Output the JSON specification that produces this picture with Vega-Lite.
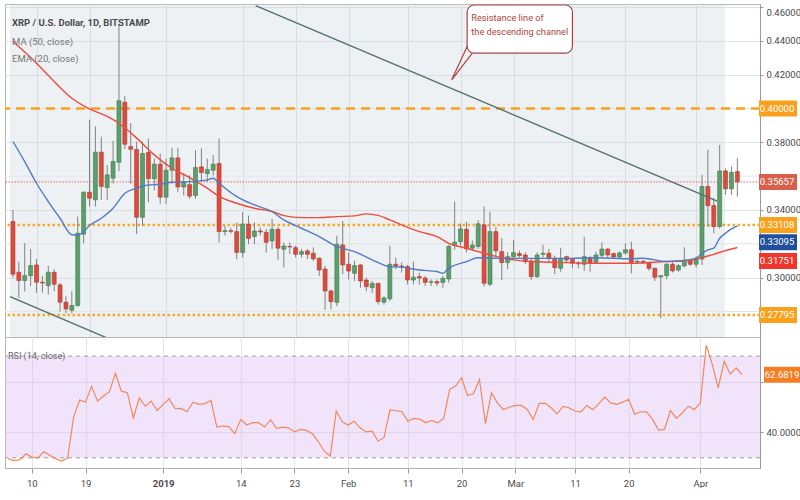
{
  "$schema": "https://vega.github.io/schema/vega-lite/v6.json",
  "padding": {"left": 3, "top": 3, "right": 0, "bottom": 0},
  "background": "white",
  "spacing": 0,
  "bounds": "flush",
  "datasets": {
    "candles": [
      {"d": "2018-12-06", "o": 0.3332, "h": 0.3401, "l": 0.3000, "c": 0.3020, "r": 29.7},
      {"d": "2018-12-07", "o": 0.3032, "h": 0.3095, "l": 0.2878, "c": 0.2983, "r": 28.9},
      {"d": "2018-12-08", "o": 0.2983, "h": 0.3204, "l": 0.2918, "c": 0.3012, "r": 29.3},
      {"d": "2018-12-09", "o": 0.3012, "h": 0.3170, "l": 0.2950, "c": 0.3071, "r": 31.6},
      {"d": "2018-12-10", "o": 0.3075, "h": 0.3110, "l": 0.2910, "c": 0.2973, "r": 30.3},
      {"d": "2018-12-11", "o": 0.2973, "h": 0.3010, "l": 0.2910, "c": 0.2968, "r": 30.0},
      {"d": "2018-12-12", "o": 0.2953, "h": 0.3070, "l": 0.2900, "c": 0.3032, "r": 32.4},
      {"d": "2018-12-13", "o": 0.3032, "h": 0.3050, "l": 0.2920, "c": 0.2961, "r": 31.0},
      {"d": "2018-12-14", "o": 0.2957, "h": 0.2970, "l": 0.2799, "c": 0.2855, "r": 29.7},
      {"d": "2018-12-15", "o": 0.2855, "h": 0.2890, "l": 0.2790, "c": 0.2815, "r": 28.7},
      {"d": "2018-12-16", "o": 0.2807, "h": 0.2920, "l": 0.2790, "c": 0.2835, "r": 30.0},
      {"d": "2018-12-17", "o": 0.2835, "h": 0.3361, "l": 0.2829, "c": 0.3263, "r": 46.0},
      {"d": "2018-12-18", "o": 0.3257, "h": 0.3510, "l": 0.3204, "c": 0.3505, "r": 52.7},
      {"d": "2018-12-19", "o": 0.3505, "h": 0.3933, "l": 0.3420, "c": 0.3470, "r": 51.9},
      {"d": "2018-12-20", "o": 0.3460, "h": 0.3894, "l": 0.3420, "c": 0.3742, "r": 58.1},
      {"d": "2018-12-21", "o": 0.3742, "h": 0.3833, "l": 0.3460, "c": 0.3539, "r": 52.3},
      {"d": "2018-12-22", "o": 0.3533, "h": 0.3665, "l": 0.3460, "c": 0.3608, "r": 54.3},
      {"d": "2018-12-23", "o": 0.3588, "h": 0.3809, "l": 0.3556, "c": 0.3687, "r": 56.0},
      {"d": "2018-12-24", "o": 0.3682, "h": 0.4500, "l": 0.3630, "c": 0.4046, "r": 63.2},
      {"d": "2018-12-25", "o": 0.4037, "h": 0.4075, "l": 0.3760, "c": 0.3789, "r": 56.2},
      {"d": "2018-12-26", "o": 0.3775, "h": 0.3913, "l": 0.3556, "c": 0.3759, "r": 55.6},
      {"d": "2018-12-27", "o": 0.3758, "h": 0.3804, "l": 0.3258, "c": 0.3357, "r": 45.7},
      {"d": "2018-12-28", "o": 0.3357, "h": 0.3804, "l": 0.3308, "c": 0.3734, "r": 53.6},
      {"d": "2018-12-29", "o": 0.3740, "h": 0.3823, "l": 0.3446, "c": 0.3585, "r": 50.3},
      {"d": "2018-12-30", "o": 0.3585, "h": 0.3704, "l": 0.3516, "c": 0.3671, "r": 52.3},
      {"d": "2018-12-31", "o": 0.3671, "h": 0.3734, "l": 0.3437, "c": 0.3476, "r": 48.6},
      {"d": "2019-01-01", "o": 0.3476, "h": 0.3704, "l": 0.3437, "c": 0.3635, "r": 51.0},
      {"d": "2019-01-02", "o": 0.3635, "h": 0.3768, "l": 0.3556, "c": 0.3708, "r": 53.2},
      {"d": "2019-01-03", "o": 0.3708, "h": 0.3768, "l": 0.3506, "c": 0.3536, "r": 49.3},
      {"d": "2019-01-04", "o": 0.3536, "h": 0.3615, "l": 0.3486, "c": 0.3565, "r": 49.4},
      {"d": "2019-01-05", "o": 0.3550, "h": 0.3605, "l": 0.3466, "c": 0.3482, "r": 48.1},
      {"d": "2019-01-06", "o": 0.3486, "h": 0.3754, "l": 0.3466, "c": 0.3651, "r": 51.9},
      {"d": "2019-01-07", "o": 0.3655, "h": 0.3764, "l": 0.3565, "c": 0.3621, "r": 51.0},
      {"d": "2019-01-08", "o": 0.3615, "h": 0.3704, "l": 0.3565, "c": 0.3639, "r": 51.3},
      {"d": "2019-01-09", "o": 0.3635, "h": 0.3724, "l": 0.3605, "c": 0.3671, "r": 52.6},
      {"d": "2019-01-10", "o": 0.3675, "h": 0.3823, "l": 0.3208, "c": 0.3272, "r": 42.1},
      {"d": "2019-01-11", "o": 0.3272, "h": 0.3308, "l": 0.3248, "c": 0.3278, "r": 42.5},
      {"d": "2019-01-12", "o": 0.3278, "h": 0.3295, "l": 0.3260, "c": 0.3274, "r": 42.3},
      {"d": "2019-01-13", "o": 0.3272, "h": 0.3327, "l": 0.3109, "c": 0.3149, "r": 39.5},
      {"d": "2019-01-14", "o": 0.3149, "h": 0.3387, "l": 0.3119, "c": 0.3317, "r": 45.1},
      {"d": "2019-01-15", "o": 0.3317, "h": 0.3367, "l": 0.3198, "c": 0.3232, "r": 42.9},
      {"d": "2019-01-16", "o": 0.3243, "h": 0.3327, "l": 0.3198, "c": 0.3276, "r": 43.8},
      {"d": "2019-01-17", "o": 0.3276, "h": 0.3297, "l": 0.3248, "c": 0.3270, "r": 43.8},
      {"d": "2019-01-18", "o": 0.3268, "h": 0.3288, "l": 0.3149, "c": 0.3209, "r": 42.1},
      {"d": "2019-01-19", "o": 0.3217, "h": 0.3347, "l": 0.3169, "c": 0.3286, "r": 45.0},
      {"d": "2019-01-20", "o": 0.3286, "h": 0.3298, "l": 0.3105, "c": 0.3174, "r": 41.6},
      {"d": "2019-01-21", "o": 0.3168, "h": 0.3208, "l": 0.3060, "c": 0.3187, "r": 42.1},
      {"d": "2019-01-22", "o": 0.3185, "h": 0.3208, "l": 0.3139, "c": 0.3181, "r": 41.8},
      {"d": "2019-01-23", "o": 0.3177, "h": 0.3189, "l": 0.3119, "c": 0.3138, "r": 40.2},
      {"d": "2019-01-24", "o": 0.3138, "h": 0.3169, "l": 0.3119, "c": 0.3154, "r": 41.2},
      {"d": "2019-01-25", "o": 0.3158, "h": 0.3169, "l": 0.3109, "c": 0.3138, "r": 40.8},
      {"d": "2019-01-26", "o": 0.3144, "h": 0.3179, "l": 0.3099, "c": 0.3111, "r": 39.5},
      {"d": "2019-01-27", "o": 0.3115, "h": 0.3119, "l": 0.3010, "c": 0.3045, "r": 36.3},
      {"d": "2019-01-28", "o": 0.3051, "h": 0.3070, "l": 0.2809, "c": 0.2921, "r": 32.6},
      {"d": "2019-01-29", "o": 0.2921, "h": 0.2931, "l": 0.2812, "c": 0.2858, "r": 30.7},
      {"d": "2019-01-30", "o": 0.2854, "h": 0.3248, "l": 0.2831, "c": 0.3197, "r": 48.4},
      {"d": "2019-01-31", "o": 0.3193, "h": 0.3335, "l": 0.3020, "c": 0.3075, "r": 44.2},
      {"d": "2019-02-01", "o": 0.3079, "h": 0.3149, "l": 0.2990, "c": 0.3039, "r": 42.9},
      {"d": "2019-02-02", "o": 0.3026, "h": 0.3100, "l": 0.2980, "c": 0.3071, "r": 44.4},
      {"d": "2019-02-03", "o": 0.3075, "h": 0.3080, "l": 0.2940, "c": 0.2980, "r": 41.8},
      {"d": "2019-02-04", "o": 0.2986, "h": 0.3000, "l": 0.2920, "c": 0.2947, "r": 40.2},
      {"d": "2019-02-05", "o": 0.2941, "h": 0.2980, "l": 0.2910, "c": 0.2966, "r": 40.5},
      {"d": "2019-02-06", "o": 0.2966, "h": 0.2970, "l": 0.2840, "c": 0.2858, "r": 36.6},
      {"d": "2019-02-07", "o": 0.2855, "h": 0.2890, "l": 0.2840, "c": 0.2880, "r": 37.9},
      {"d": "2019-02-08", "o": 0.2875, "h": 0.3189, "l": 0.2861, "c": 0.3079, "r": 48.8},
      {"d": "2019-02-09", "o": 0.3079, "h": 0.3119, "l": 0.3050, "c": 0.3069, "r": 48.6},
      {"d": "2019-02-10", "o": 0.3069, "h": 0.3090, "l": 0.3030, "c": 0.3065, "r": 48.1},
      {"d": "2019-02-11", "o": 0.3065, "h": 0.3075, "l": 0.2960, "c": 0.2986, "r": 44.4},
      {"d": "2019-02-12", "o": 0.2986, "h": 0.3095, "l": 0.2960, "c": 0.3002, "r": 45.5},
      {"d": "2019-02-13", "o": 0.3006, "h": 0.3030, "l": 0.2960, "c": 0.2998, "r": 45.2},
      {"d": "2019-02-14", "o": 0.2998, "h": 0.3010, "l": 0.2950, "c": 0.2972, "r": 43.8},
      {"d": "2019-02-15", "o": 0.2972, "h": 0.2990, "l": 0.2950, "c": 0.2976, "r": 44.7},
      {"d": "2019-02-16", "o": 0.2976, "h": 0.2990, "l": 0.2950, "c": 0.2968, "r": 43.8},
      {"d": "2019-02-17", "o": 0.2972, "h": 0.3010, "l": 0.2940, "c": 0.2996, "r": 45.5},
      {"d": "2019-02-18", "o": 0.2992, "h": 0.3194, "l": 0.2970, "c": 0.3184, "r": 56.9},
      {"d": "2019-02-19", "o": 0.3190, "h": 0.3450, "l": 0.3165, "c": 0.3210, "r": 58.2},
      {"d": "2019-02-20", "o": 0.3213, "h": 0.3320, "l": 0.3190, "c": 0.3288, "r": 61.5},
      {"d": "2019-02-21", "o": 0.3286, "h": 0.3330, "l": 0.3150, "c": 0.3170, "r": 54.5},
      {"d": "2019-02-22", "o": 0.3174, "h": 0.3220, "l": 0.3160, "c": 0.3193, "r": 55.2},
      {"d": "2019-02-23", "o": 0.3184, "h": 0.3340, "l": 0.3170, "c": 0.3318, "r": 60.8},
      {"d": "2019-02-24", "o": 0.3312, "h": 0.3420, "l": 0.2947, "c": 0.2967, "r": 43.4},
      {"d": "2019-02-25", "o": 0.2961, "h": 0.3390, "l": 0.2950, "c": 0.3272, "r": 55.6},
      {"d": "2019-02-26", "o": 0.3272, "h": 0.3300, "l": 0.3125, "c": 0.3158, "r": 51.6},
      {"d": "2019-02-27", "o": 0.3154, "h": 0.3233, "l": 0.2986, "c": 0.3089, "r": 49.0},
      {"d": "2019-02-28", "o": 0.3089, "h": 0.3150, "l": 0.3050, "c": 0.3124, "r": 49.9},
      {"d": "2019-03-01", "o": 0.3124, "h": 0.3223, "l": 0.3110, "c": 0.3148, "r": 50.6},
      {"d": "2019-03-02", "o": 0.3142, "h": 0.3160, "l": 0.3120, "c": 0.3130, "r": 50.6},
      {"d": "2019-03-03", "o": 0.3134, "h": 0.3150, "l": 0.3080, "c": 0.3095, "r": 49.0},
      {"d": "2019-03-04", "o": 0.3099, "h": 0.3110, "l": 0.2986, "c": 0.3006, "r": 45.1},
      {"d": "2019-03-05", "o": 0.3006, "h": 0.3150, "l": 0.2998, "c": 0.3134, "r": 51.3},
      {"d": "2019-03-06", "o": 0.3138, "h": 0.3195, "l": 0.3120, "c": 0.3144, "r": 51.5},
      {"d": "2019-03-07", "o": 0.3144, "h": 0.3170, "l": 0.3090, "c": 0.3114, "r": 49.7},
      {"d": "2019-03-08", "o": 0.3114, "h": 0.3130, "l": 0.3020, "c": 0.3059, "r": 47.3},
      {"d": "2019-03-09", "o": 0.3055, "h": 0.3177, "l": 0.3035, "c": 0.3114, "r": 50.2},
      {"d": "2019-03-10", "o": 0.3124, "h": 0.3130, "l": 0.3090, "c": 0.3104, "r": 49.7},
      {"d": "2019-03-11", "o": 0.3108, "h": 0.3115, "l": 0.3055, "c": 0.3085, "r": 48.4},
      {"d": "2019-03-12", "o": 0.3085, "h": 0.3100, "l": 0.3055, "c": 0.3082, "r": 48.1},
      {"d": "2019-03-13", "o": 0.3079, "h": 0.3242, "l": 0.3040, "c": 0.3124, "r": 50.6},
      {"d": "2019-03-14", "o": 0.3118, "h": 0.3130, "l": 0.3035, "c": 0.3085, "r": 48.9},
      {"d": "2019-03-15", "o": 0.3091, "h": 0.3155, "l": 0.3080, "c": 0.3134, "r": 51.3},
      {"d": "2019-03-16", "o": 0.3132, "h": 0.3209, "l": 0.3120, "c": 0.3169, "r": 53.9},
      {"d": "2019-03-17", "o": 0.3169, "h": 0.3175, "l": 0.3120, "c": 0.3134, "r": 51.6},
      {"d": "2019-03-18", "o": 0.3142, "h": 0.3150, "l": 0.3110, "c": 0.3122, "r": 51.0},
      {"d": "2019-03-19", "o": 0.3122, "h": 0.3155, "l": 0.3110, "c": 0.3146, "r": 51.9},
      {"d": "2019-03-20", "o": 0.3146, "h": 0.3203, "l": 0.3135, "c": 0.3165, "r": 53.0},
      {"d": "2019-03-21", "o": 0.3165, "h": 0.3213, "l": 0.3025, "c": 0.3090, "r": 47.1},
      {"d": "2019-03-22", "o": 0.3093, "h": 0.3105, "l": 0.3080, "c": 0.3097, "r": 48.1},
      {"d": "2019-03-23", "o": 0.3097, "h": 0.3105, "l": 0.3080, "c": 0.3089, "r": 48.1},
      {"d": "2019-03-24", "o": 0.3090, "h": 0.3095, "l": 0.3040, "c": 0.3055, "r": 45.1},
      {"d": "2019-03-25", "o": 0.3055, "h": 0.3060, "l": 0.2980, "c": 0.3002, "r": 40.9},
      {"d": "2019-03-26", "o": 0.3004, "h": 0.3012, "l": 0.2760, "c": 0.3012, "r": 41.2},
      {"d": "2019-03-27", "o": 0.3012, "h": 0.3085, "l": 0.2990, "c": 0.3079, "r": 48.6},
      {"d": "2019-03-28", "o": 0.3079, "h": 0.3090, "l": 0.3030, "c": 0.3040, "r": 45.5},
      {"d": "2019-03-29", "o": 0.3045, "h": 0.3080, "l": 0.3035, "c": 0.3071, "r": 47.7},
      {"d": "2019-03-30", "o": 0.3069, "h": 0.3180, "l": 0.3060, "c": 0.3095, "r": 50.3},
      {"d": "2019-03-31", "o": 0.3099, "h": 0.3110, "l": 0.3070, "c": 0.3079, "r": 49.0},
      {"d": "2019-04-01", "o": 0.3079, "h": 0.3125, "l": 0.3060, "c": 0.3110, "r": 51.6},
      {"d": "2019-04-02", "o": 0.3110, "h": 0.3608, "l": 0.3075, "c": 0.3539, "r": 74.3},
      {"d": "2019-04-03", "o": 0.3539, "h": 0.3756, "l": 0.3300, "c": 0.3426, "r": 66.7},
      {"d": "2019-04-04", "o": 0.3426, "h": 0.3470, "l": 0.3263, "c": 0.3302, "r": 57.5},
      {"d": "2019-04-05", "o": 0.3302, "h": 0.3785, "l": 0.3290, "c": 0.3631, "r": 68.0},
      {"d": "2019-04-06", "o": 0.3631, "h": 0.3645, "l": 0.3489, "c": 0.3525, "r": 63.0},
      {"d": "2019-04-07", "o": 0.3525, "h": 0.3657, "l": 0.3489, "c": 0.3623, "r": 65.4},
      {"d": "2019-04-08", "o": 0.3627, "h": 0.3706, "l": 0.3480, "c": 0.3566, "r": 62.7}
    ],
    "ma50": [
      {"d": "2018-12-06", "v": 0.4396}, {"d": "2018-12-10", "v": 0.4268}, {"d": "2018-12-13", "v": 0.4160},
      {"d": "2018-12-16", "v": 0.4061}, {"d": "2018-12-19", "v": 0.3998}, {"d": "2018-12-22", "v": 0.3953},
      {"d": "2018-12-24", "v": 0.3913}, {"d": "2018-12-27", "v": 0.3825}, {"d": "2018-12-30", "v": 0.3726},
      {"d": "2019-01-02", "v": 0.3647}, {"d": "2019-01-05", "v": 0.3592}, {"d": "2019-01-08", "v": 0.3529},
      {"d": "2019-01-10", "v": 0.3480}, {"d": "2019-01-13", "v": 0.3440}, {"d": "2019-01-16", "v": 0.3410},
      {"d": "2019-01-19", "v": 0.3391}, {"d": "2019-01-21", "v": 0.3367}, {"d": "2019-01-24", "v": 0.3355},
      {"d": "2019-01-27", "v": 0.3355}, {"d": "2019-01-30", "v": 0.3361}, {"d": "2019-02-02", "v": 0.3365},
      {"d": "2019-02-04", "v": 0.3377}, {"d": "2019-02-06", "v": 0.3368}, {"d": "2019-02-08", "v": 0.3341},
      {"d": "2019-02-10", "v": 0.3312}, {"d": "2019-02-13", "v": 0.3272}, {"d": "2019-02-16", "v": 0.3243},
      {"d": "2019-02-18", "v": 0.3203}, {"d": "2019-02-21", "v": 0.3174}, {"d": "2019-02-24", "v": 0.3144},
      {"d": "2019-02-27", "v": 0.3118}, {"d": "2019-03-01", "v": 0.3105}, {"d": "2019-03-04", "v": 0.3095},
      {"d": "2019-03-10", "v": 0.3089}, {"d": "2019-03-15", "v": 0.3085}, {"d": "2019-03-21", "v": 0.3085},
      {"d": "2019-03-27", "v": 0.3095}, {"d": "2019-03-31", "v": 0.3101}, {"d": "2019-04-02", "v": 0.3119},
      {"d": "2019-04-04", "v": 0.3138}, {"d": "2019-04-06", "v": 0.3160}, {"d": "2019-04-08", "v": 0.3178}
    ],
    "ema20": [
      {"d": "2018-12-06", "v": 0.3805}, {"d": "2018-12-08", "v": 0.3686}, {"d": "2018-12-10", "v": 0.3558},
      {"d": "2018-12-12", "v": 0.3450}, {"d": "2018-12-14", "v": 0.3351}, {"d": "2018-12-16", "v": 0.3254},
      {"d": "2018-12-17", "v": 0.3252}, {"d": "2018-12-18", "v": 0.3272}, {"d": "2018-12-19", "v": 0.3308},
      {"d": "2018-12-21", "v": 0.3351}, {"d": "2018-12-23", "v": 0.3410}, {"d": "2018-12-25", "v": 0.3499},
      {"d": "2018-12-27", "v": 0.3529}, {"d": "2018-12-29", "v": 0.3548}, {"d": "2018-12-31", "v": 0.3552},
      {"d": "2019-01-02", "v": 0.3564}, {"d": "2019-01-05", "v": 0.3568}, {"d": "2019-01-08", "v": 0.3578},
      {"d": "2019-01-09", "v": 0.3588}, {"d": "2019-01-10", "v": 0.3558}, {"d": "2019-01-13", "v": 0.3479},
      {"d": "2019-01-16", "v": 0.3430}, {"d": "2019-01-19", "v": 0.3391}, {"d": "2019-01-21", "v": 0.3341},
      {"d": "2019-01-24", "v": 0.3292}, {"d": "2019-01-27", "v": 0.3243}, {"d": "2019-01-30", "v": 0.3183},
      {"d": "2019-02-02", "v": 0.3154}, {"d": "2019-02-05", "v": 0.3105}, {"d": "2019-02-08", "v": 0.3065},
      {"d": "2019-02-10", "v": 0.3062}, {"d": "2019-02-13", "v": 0.3045}, {"d": "2019-02-16", "v": 0.3036},
      {"d": "2019-02-17", "v": 0.3026}, {"d": "2019-02-18", "v": 0.3055}, {"d": "2019-02-21", "v": 0.3095},
      {"d": "2019-02-23", "v": 0.3118}, {"d": "2019-02-27", "v": 0.3114}, {"d": "2019-03-04", "v": 0.3114},
      {"d": "2019-03-10", "v": 0.3114}, {"d": "2019-03-15", "v": 0.3118}, {"d": "2019-03-21", "v": 0.3112},
      {"d": "2019-03-23", "v": 0.3115}, {"d": "2019-03-27", "v": 0.3095}, {"d": "2019-03-29", "v": 0.3099},
      {"d": "2019-04-01", "v": 0.3115}, {"d": "2019-04-02", "v": 0.3144}, {"d": "2019-04-03", "v": 0.3164},
      {"d": "2019-04-04", "v": 0.3174}, {"d": "2019-04-05", "v": 0.3233}, {"d": "2019-04-06", "v": 0.3263},
      {"d": "2019-04-07", "v": 0.3288}, {"d": "2019-04-08", "v": 0.3306}
    ],
    "channel": [
      {"line": "upper", "d": "2019-01-16T05:00:00Z", "p": 0.4609},
      {"line": "upper", "d": "2019-04-04T14:00:00Z", "p": 0.3452},
      {"line": "lower", "d": "2018-12-05T12:00:00Z", "p": 0.2888},
      {"line": "lower", "d": "2018-12-22T00:00:00Z", "p": 0.2643}
    ],
    "tail": [
      {"i": 1, "d": "2019-02-21T03:00:00Z", "p": 0.4367},
      {"i": 2, "d": "2019-02-18T12:00:00Z", "p": 0.4170},
      {"i": 3, "d": "2019-02-22T00:00:00Z", "p": 0.4327}
    ],
    "tags": [
      {"p": 0.4, "label": "0.40000", "kind": "level"},
      {"p": 0.35657, "label": "0.35657", "kind": "price"},
      {"p": 0.33108, "label": "0.33108", "kind": "level"},
      {"p": 0.27795, "label": "0.27795", "kind": "level"},
      {"p": 0.33095, "label": "0.33095", "kind": "ema"},
      {"p": 0.31751, "label": "0.31751", "kind": "ma"}
    ]
  },
  "vconcat": [
    {
      "width": 755,
      "height": 333,
      "layer": [
        {
          "data": {"values": [{}]},
          "mark": {"type": "rect", "color": "#c8d0d8", "opacity": 0.3},
          "encoding": {
            "x": {
              "datum": {"year": 2018, "month": 12, "date": 5, "hours": 12, "utc": true},
              "type": "temporal",
              "scale": {"type": "utc", "domain": [{"year": 2018, "month": 12, "date": 5, "hours": 12, "utc": true}, {"year": 2019, "month": 4, "date": 11, "utc": true}]},
              "axis": {
                "title": null, "labels": false, "ticks": false, "domain": false, "grid": true,
                "values": [
                  {"year": 2018, "month": 12, "date": 10, "utc": true}, {"year": 2018, "month": 12, "date": 19, "utc": true},
                  {"year": 2019, "month": 1, "date": 1, "utc": true}, {"year": 2019, "month": 1, "date": 14, "utc": true},
                  {"year": 2019, "month": 1, "date": 23, "utc": true}, {"year": 2019, "month": 2, "date": 1, "utc": true},
                  {"year": 2019, "month": 2, "date": 11, "utc": true}, {"year": 2019, "month": 2, "date": 20, "utc": true},
                  {"year": 2019, "month": 3, "date": 1, "utc": true}, {"year": 2019, "month": 3, "date": 11, "utc": true},
                  {"year": 2019, "month": 3, "date": 20, "utc": true}, {"year": 2019, "month": 4, "date": 1, "utc": true}
                ]
              }
            },
            "x2": {"datum": {"year": 2019, "month": 4, "date": 5, "hours": 22, "utc": true}},
            "y": {
              "datum": 0.4618,
              "type": "quantitative",
              "scale": {"domain": [0.2649, 0.4618], "nice": false, "zero": false},
              "axis": {
                "title": null, "orient": "right", "grid": true, "labelOverlap": false, "labelFlush": 5,
                "values": [0.30, 0.34, 0.38, 0.42, 0.44, 0.46],
                "format": ".5f",
                "tickSize": 3, "labelPadding": 3
              }
            },
            "y2": {"datum": 0.2649}
          }
        },
        {
          "data": {"values": [{"g": 0.28}, {"g": 0.32}, {"g": 0.36}, {"g": 0.40}]},
          "mark": {"type": "rule", "color": "#e1e4e8", "strokeWidth": 1},
          "encoding": {"y": {"field": "g", "type": "quantitative"}}
        },
        {
          "data": {"values": [{}]},
          "mark": {"type": "rule", "color": "#f9a11b", "strokeWidth": 2.5, "strokeDash": [9, 6]},
          "encoding": {"y": {"datum": 0.4, "type": "quantitative"}}
        },
        {
          "data": {"values": [{"p": 0.33108}, {"p": 0.27795}]},
          "mark": {"type": "rule", "color": "#f9a825", "strokeWidth": 2.5, "strokeDash": [2.5, 2.5]},
          "encoding": {"y": {"field": "p", "type": "quantitative"}}
        },
        {
          "data": {"values": [{}]},
          "mark": {"type": "rule", "color": "#e06666", "strokeWidth": 1, "strokeDash": [1.5, 1.5]},
          "encoding": {"y": {"datum": 0.35657, "type": "quantitative"}}
        },
        {
          "data": {"name": "candles"},
          "mark": {"type": "rule", "color": "#808080", "strokeWidth": 1},
          "encoding": {
            "x": {"field": "d", "type": "temporal"},
            "y": {"field": "l", "type": "quantitative"},
            "y2": {"field": "h"}
          }
        },
        {
          "data": {"name": "candles"},
          "mark": {"type": "bar", "size": 4, "strokeWidth": 0.6},
          "encoding": {
            "x": {"field": "d", "type": "temporal"},
            "y": {"field": "o", "type": "quantitative"},
            "y2": {"field": "c"},
            "color": {"condition": {"test": "datum.c >= datum.o", "value": "#5c9e6c"}, "value": "#dc4b3e"},
            "stroke": {"condition": {"test": "datum.c >= datum.o", "value": "#3d7a4e"}, "value": "#a83a2e"}
          }
        },
        {
          "data": {"name": "ma50"},
          "mark": {"type": "line", "color": "#ef4b3f", "strokeWidth": 1.4, "interpolate": "monotone"},
          "encoding": {"x": {"field": "d", "type": "temporal"}, "y": {"field": "v", "type": "quantitative"}}
        },
        {
          "data": {"name": "ema20"},
          "mark": {"type": "line", "color": "#4f7cc4", "strokeWidth": 1.4, "interpolate": "monotone"},
          "encoding": {"x": {"field": "d", "type": "temporal"}, "y": {"field": "v", "type": "quantitative"}}
        },
        {
          "data": {"name": "channel"},
          "mark": {"type": "line", "color": "#55706f", "strokeWidth": 1.4, "clip": true},
          "encoding": {
            "x": {"field": "d", "type": "temporal"},
            "y": {"field": "p", "type": "quantitative"},
            "detail": {"field": "line"}
          }
        },
        {
          "data": {"values": [{}]},
          "mark": {"type": "rect", "fill": "white", "stroke": "#a94442", "strokeWidth": 1.2, "cornerRadius": 7},
          "encoding": {
            "x": {"datum": {"year": 2019, "month": 2, "date": 21, "hours": 3, "utc": true}, "type": "temporal"},
            "x2": {"datum": {"year": 2019, "month": 3, "date": 11, "utc": true}},
            "y": {"datum": 0.4612, "type": "quantitative"},
            "y2": {"datum": 0.4327}
          }
        },
        {
          "data": {"name": "tail"},
          "mark": {"type": "line", "color": "#a94442", "strokeWidth": 1.2},
          "encoding": {
            "x": {"field": "d", "type": "temporal"},
            "y": {"field": "p", "type": "quantitative"},
            "order": {"field": "i"}
          }
        },
        {
          "data": {"values": [{}]},
          "mark": {"type": "text", "text": ["Resistance line of", "the descending channel"], "align": "left", "baseline": "top", "fontSize": 9.2, "lineHeight": 14, "color": "#b0463d"},
          "encoding": {
            "x": {"datum": {"year": 2019, "month": 2, "date": 21, "hours": 20, "utc": true}, "type": "temporal"},
            "y": {"datum": 0.4560, "type": "quantitative"}
          }
        },
        {
          "data": {"values": [{}]},
          "mark": {"type": "text", "text": "XRP / U.S. Dollar, 1D, BITSTAMP", "align": "left", "baseline": "middle", "fontSize": 9.5, "fontWeight": "bold", "color": "#4a4a4a", "xOffset": 2},
          "encoding": {
            "x": {"datum": {"year": 2018, "month": 12, "date": 5, "hours": 12, "utc": true}, "type": "temporal"},
            "y": {"datum": 0.4503, "type": "quantitative"}
          }
        },
        {
          "data": {"values": [{}]},
          "mark": {"type": "text", "text": "MA (50, close)", "align": "left", "baseline": "middle", "fontSize": 9.5, "color": "#777777", "xOffset": 2},
          "encoding": {
            "x": {"datum": {"year": 2018, "month": 12, "date": 5, "hours": 12, "utc": true}, "type": "temporal"},
            "y": {"datum": 0.4396, "type": "quantitative"}
          }
        },
        {
          "data": {"values": [{}]},
          "mark": {"type": "text", "text": "EMA (20, close)", "align": "left", "baseline": "middle", "fontSize": 9.5, "color": "#777777", "xOffset": 2},
          "encoding": {
            "x": {"datum": {"year": 2018, "month": 12, "date": 5, "hours": 12, "utc": true}, "type": "temporal"},
            "y": {"datum": 0.4290, "type": "quantitative"}
          }
        },
        {
          "data": {"name": "tags"},
          "transform": [{"filter": "datum.kind == 'level' || datum.kind == 'price'"}],
          "mark": {"type": "point", "shape": "M-1,-0.42L1,-0.42L1,0.42L-1,0.42Z", "size": 1444, "filled": true, "opacity": 1, "strokeWidth": 0, "xOffset": 23},
          "encoding": {
            "x": {"datum": {"year": 2019, "month": 4, "date": 11, "utc": true}, "type": "temporal"},
            "y": {"field": "p", "type": "quantitative"},
            "color": {"field": "kind", "type": "nominal", "scale": {"domain": ["level", "price", "ema", "ma"], "range": ["#f9a11b", "#d8604b", "#1f4f9d", "#f0362c"]}, "legend": null}
          }
        },
        {
          "data": {"name": "tags"},
          "transform": [{"filter": "datum.kind == 'ema'"}],
          "mark": {"type": "point", "shape": "M-1,-0.42L1,-0.42L1,0.42L-1,0.42Z", "size": 1444, "filled": true, "opacity": 1, "strokeWidth": 0, "xOffset": 23, "yOffset": 17},
          "encoding": {
            "x": {"datum": {"year": 2019, "month": 4, "date": 11, "utc": true}, "type": "temporal"},
            "y": {"field": "p", "type": "quantitative"},
            "color": {"field": "kind", "type": "nominal", "legend": null}
          }
        },
        {
          "data": {"name": "tags"},
          "transform": [{"filter": "datum.kind == 'ma'"}],
          "mark": {"type": "point", "shape": "M-1,-0.42L1,-0.42L1,0.42L-1,0.42Z", "size": 1444, "filled": true, "opacity": 1, "strokeWidth": 0, "xOffset": 23, "yOffset": 13},
          "encoding": {
            "x": {"datum": {"year": 2019, "month": 4, "date": 11, "utc": true}, "type": "temporal"},
            "y": {"field": "p", "type": "quantitative"},
            "color": {"field": "kind", "type": "nominal", "legend": null}
          }
        },
        {
          "data": {"name": "tags"},
          "transform": [{"filter": "datum.kind == 'level' || datum.kind == 'price'"}],
          "mark": {"type": "text", "color": "white", "fontSize": 9.5, "align": "center", "baseline": "middle", "xOffset": 22},
          "encoding": {
            "x": {"datum": {"year": 2019, "month": 4, "date": 11, "utc": true}, "type": "temporal"},
            "y": {"field": "p", "type": "quantitative"},
            "text": {"field": "label"}
          }
        },
        {
          "data": {"name": "tags"},
          "transform": [{"filter": "datum.kind == 'ema'"}],
          "mark": {"type": "text", "color": "white", "fontSize": 9.5, "align": "center", "baseline": "middle", "xOffset": 22, "yOffset": 17},
          "encoding": {
            "x": {"datum": {"year": 2019, "month": 4, "date": 11, "utc": true}, "type": "temporal"},
            "y": {"field": "p", "type": "quantitative"},
            "text": {"field": "label"}
          }
        },
        {
          "data": {"name": "tags"},
          "transform": [{"filter": "datum.kind == 'ma'"}],
          "mark": {"type": "text", "color": "white", "fontSize": 9.5, "align": "center", "baseline": "middle", "xOffset": 22, "yOffset": 13},
          "encoding": {
            "x": {"datum": {"year": 2019, "month": 4, "date": 11, "utc": true}, "type": "temporal"},
            "y": {"field": "p", "type": "quantitative"},
            "text": {"field": "label"}
          }
        }
      ]
    },
    {
      "width": 755,
      "height": 131,
      "layer": [
        {
          "data": {"values": [{}]},
          "mark": {"type": "rect", "color": "#dcb8f0", "opacity": 0.4},
          "encoding": {
            "x": {
              "datum": {"year": 2018, "month": 12, "date": 5, "hours": 12, "utc": true},
              "type": "temporal",
              "scale": {"type": "utc", "domain": [{"year": 2018, "month": 12, "date": 5, "hours": 12, "utc": true}, {"year": 2019, "month": 4, "date": 11, "utc": true}]},
              "axis": {
                "title": null, "grid": true, "domain": false, "tickSize": 5, "labelPadding": 5, "labelFlush": false,
                "values": [
                  {"year": 2018, "month": 12, "date": 10, "utc": true}, {"year": 2018, "month": 12, "date": 19, "utc": true},
                  {"year": 2019, "month": 1, "date": 1, "utc": true}, {"year": 2019, "month": 1, "date": 14, "utc": true},
                  {"year": 2019, "month": 1, "date": 23, "utc": true}, {"year": 2019, "month": 2, "date": 1, "utc": true},
                  {"year": 2019, "month": 2, "date": 11, "utc": true}, {"year": 2019, "month": 2, "date": 20, "utc": true},
                  {"year": 2019, "month": 3, "date": 1, "utc": true}, {"year": 2019, "month": 3, "date": 11, "utc": true},
                  {"year": 2019, "month": 3, "date": 20, "utc": true}, {"year": 2019, "month": 4, "date": 1, "utc": true}
                ],
                "labelExpr": "utcdate(datum.value) == 1 ? (utcmonth(datum.value) == 0 ? '2019' : utcFormat(datum.value, '%b')) : utcFormat(datum.value, '%-d')",
                "labelFontWeight": {"condition": {"test": "utcmonth(datum.value) == 0 && utcdate(datum.value) == 1", "value": "bold"}, "value": "normal"}
              }
            },
            "x2": {"datum": {"year": 2019, "month": 4, "date": 11, "utc": true}},
            "y": {
              "datum": 70,
              "type": "quantitative",
              "scale": {"domain": [26, 77.5], "nice": false, "zero": false},
              "axis": {"title": null, "orient": "right", "grid": true, "labelOverlap": false, "values": [40, 60], "labelExpr": "datum.value == 60 ? '' : format(datum.value, '.4f')", "tickSize": 3, "labelPadding": 3}
            },
            "y2": {"datum": 30}
          }
        },
        {
          "data": {"values": [{"v": 70}, {"v": 30}]},
          "mark": {"type": "rule", "color": "#a0a0a0", "strokeWidth": 1, "strokeDash": [4, 4]},
          "encoding": {"y": {"field": "v", "type": "quantitative"}}
        },
        {
          "data": {"name": "candles"},
          "mark": {"type": "line", "color": "#f08a5d", "strokeWidth": 1.2},
          "encoding": {"x": {"field": "d", "type": "temporal"}, "y": {"field": "r", "type": "quantitative"}}
        },
        {
          "data": {"values": [{}]},
          "mark": {"type": "text", "text": "RSI (14, close)", "align": "left", "baseline": "middle", "fontSize": 9, "color": "#666666", "xOffset": 3},
          "encoding": {
            "x": {"datum": {"year": 2018, "month": 12, "date": 5, "hours": 12, "utc": true}, "type": "temporal"},
            "y": {"datum": 70, "type": "quantitative"}
          }
        },
        {
          "data": {"values": [{"p": 62.6819, "label": "62.6819"}]},
          "mark": {"type": "point", "shape": "M-1,-0.42L1,-0.42L1,0.42L-1,0.42Z", "size": 1444, "filled": true, "opacity": 1, "strokeWidth": 0, "xOffset": 23, "color": "#f57d22"},
          "encoding": {
            "x": {"datum": {"year": 2019, "month": 4, "date": 11, "utc": true}, "type": "temporal"},
            "y": {"field": "p", "type": "quantitative"}
          }
        },
        {
          "data": {"values": [{"p": 62.6819, "label": "62.6819"}]},
          "mark": {"type": "text", "color": "white", "fontSize": 9.5, "align": "center", "baseline": "middle", "xOffset": 22},
          "encoding": {
            "x": {"datum": {"year": 2019, "month": 4, "date": 11, "utc": true}, "type": "temporal"},
            "y": {"field": "p", "type": "quantitative"},
            "text": {"field": "label"}
          }
        }
      ]
    }
  ],
  "config": {
    "font": "Roboto, sans-serif",
    "view": {"stroke": "#b5b5b5", "strokeWidth": 1},
    "axis": {
      "gridColor": "#e1e4e8",
      "gridWidth": 1,
      "domainColor": "#9a9a9a",
      "tickColor": "#9a9a9a",
      "labelColor": "#4a4a4a",
      "labelFontSize": 9.5,
      "labelFont": "Roboto, sans-serif"
    }
  }
}
